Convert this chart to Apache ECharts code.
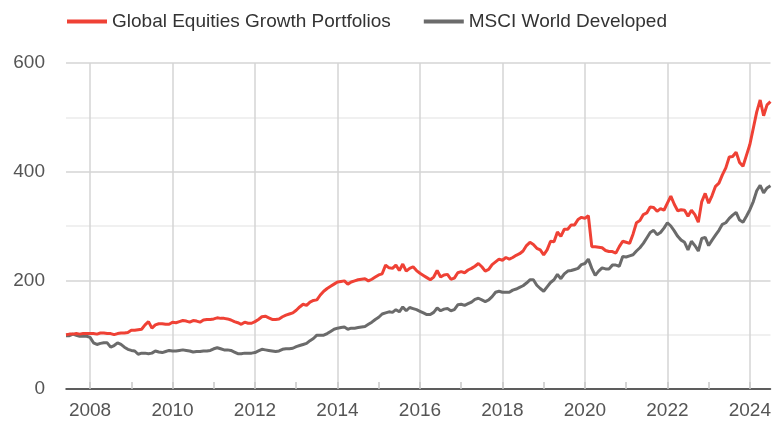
<!DOCTYPE html>
<html>
<head>
<meta charset="utf-8">
<script src="https://cdn.jsdelivr.net/npm/echarts@6/dist/echarts.min.js"></script>
<style>
  html, body { margin: 0; padding: 0; background: #fff; }
  #chart { width: 774px; height: 421px; }
</style>
</head>
<body>
<div id="chart"></div>
<script>
var echarts = window.echarts;

// monthly points, Jun 2007 .. Jul 2024
var startYear = 2007;
var startMonth = 6;
var seriesNames = ['Global Equities Growth Portfolios', 'MSCI World Developed'];
var colors = ['#ef4135', '#6b6b6b'];

var growth = [
  100, 101, 101, 102, 101, 102, 102, 102, 102, 101, 103, 103, 102, 102, 100, 102,
  103, 103, 104, 108, 108, 109, 110, 118, 124, 112, 118, 120, 120, 119, 119, 123,
  122, 124, 126, 125, 123, 126, 125, 123, 127, 128, 128, 129, 131, 130, 130, 129,
  127, 124, 122, 119, 123, 121, 121, 124, 128, 133, 134, 131, 128, 128, 129, 133,
  136, 138, 140, 145, 151, 156, 154, 160, 163, 164, 173, 180, 185, 189, 193, 197,
  198, 199, 193, 197, 199, 201, 202, 203, 199, 202, 206, 210, 212, 228, 223, 222,
  228, 218, 230, 217, 222, 225, 218, 213, 209, 205, 201, 206, 218, 206, 210, 211,
  202, 204, 214, 216, 214, 219, 222, 226, 231, 225, 217, 220, 229, 234, 239, 237,
  242, 239, 242, 246, 249, 254, 264, 270, 266, 259, 256, 247, 256, 272, 271, 289,
  281, 294, 294, 302, 302, 312, 316, 314, 319, 262, 262, 261, 260, 255, 253, 253,
  250, 262, 272, 270, 268, 285, 306, 310, 321, 324, 335, 334, 327, 332, 329, 342,
  355, 340, 328, 330, 329, 318, 329, 321, 307, 345, 360, 342, 356, 373, 379, 394,
  407, 427, 428, 436, 417, 410, 430, 450, 480, 510, 532, 503, 523, 529
];

var msci = [
  98, 98, 101, 99, 97, 97, 97, 95, 85, 82, 84, 85, 85, 77, 80, 85,
  82, 77, 73, 71, 70, 64, 66, 66, 65, 66, 70, 68, 67, 69, 71, 70,
  70, 71, 72, 71, 70, 68, 69, 69, 70, 70, 71, 74, 76, 74, 72, 72,
  71, 68, 65, 65, 66, 66, 66, 67, 70, 73, 72, 71, 70, 69, 70, 73,
  74, 74, 75, 78, 80, 82, 84, 89, 93, 99, 99, 99, 102, 106, 110, 112,
  113, 114, 110, 112, 112, 113, 114, 115, 119, 123, 128, 132, 138, 140, 142, 141,
  146, 142, 151, 144, 150, 148, 146, 143, 140, 137, 137, 141, 149, 144, 147, 148,
  144, 146, 155, 156, 154, 157, 160, 165, 167, 164, 161, 164, 170, 178, 180, 178,
  178, 178, 182, 184, 187, 190, 195, 201, 201, 191, 185, 180, 188, 196, 201, 211,
  203, 212, 217, 218, 220, 222, 229, 231, 239, 222, 209, 217, 223, 221, 221, 228,
  228, 226, 244, 243, 245, 247, 254, 260, 268, 278, 288, 292, 284, 288, 296, 306,
  300, 291, 281, 274, 270, 256, 272, 264, 254, 277, 279, 264, 274, 283, 292, 303,
  306, 314, 320, 325, 311, 307, 318, 330, 345, 365, 375, 361, 370, 374
];

var months = [];
for (var i = 0; i < growth.length; i++) {
  var m = startMonth - 1 + i;
  var y = startYear + Math.floor(m / 12);
  var mm = (m % 12) + 1;
  months.push(y + '-' + (mm < 10 ? '0' + mm : mm));
}

function isJan(value) {
  return value.slice(5) === '01';
}
function isEvenJan(value) {
  return isJan(value) && +value.slice(0, 4) % 2 === 0;
}

var chart = echarts.init(document.getElementById('chart'));
chart.setOption({
  animation: false,
  color: colors,
  legend: {
    left: 62,
    top: 7,
    icon: 'rect',
    itemWidth: 40,
    itemHeight: 4,
    itemGap: 33,
    textStyle: { fontSize: 19, color: '#333', fontFamily: 'Liberation Sans, Arial, sans-serif' },
    data: seriesNames
  },
  grid: { left: 66, right: 0, top: 63, bottom: 32 },
  xAxis: {
    type: 'category',
    data: months,
    boundaryGap: false,
    axisLine: { lineStyle: { color: '#333', width: 1.5 } },
    axisTick: {
      inside: true,
      length: 7,
      interval: function(idx, value) { return isJan(value); },
      lineStyle: { color: '#c8c8c8', width: 1.5 }
    },
    splitLine: {
      show: true,
      interval: function(idx, value) { return isEvenJan(value); },
      lineStyle: { color: '#d4d4d4', width: 1.5 }
    },
    axisLabel: {
      interval: function(idx, value) { return isEvenJan(value); },
      formatter: function(value) { return value.slice(0, 4); },
      margin: 12,
      fontSize: 19,
      color: '#555',
      fontFamily: 'Liberation Sans, Arial, sans-serif'
    }
  },
  yAxis: {
    type: 'value',
    min: 0,
    max: 600,
    interval: 200,
    axisLine: { show: false },
    axisTick: { show: false },
    axisLabel: {
      margin: 21,
      fontSize: 19,
      color: '#555',
      fontFamily: 'Liberation Sans, Arial, sans-serif'
    },
    splitLine: { lineStyle: { color: '#d4d4d4', width: 1.5 } },
    minorTick: { show: false, splitNumber: 2 },
    minorSplitLine: { show: true, lineStyle: { color: '#ebebeb', width: 1.5 } }
  },
  series: [
    {
      name: seriesNames[0],
      type: 'line',
      data: growth,
      showSymbol: false,
      z: 3,
      lineStyle: { width: 3 }
    },
    {
      name: seriesNames[1],
      type: 'line',
      data: msci,
      showSymbol: false,
      z: 2,
      lineStyle: { width: 3 }
    }
  ]
});
</script>
</body>
</html>
